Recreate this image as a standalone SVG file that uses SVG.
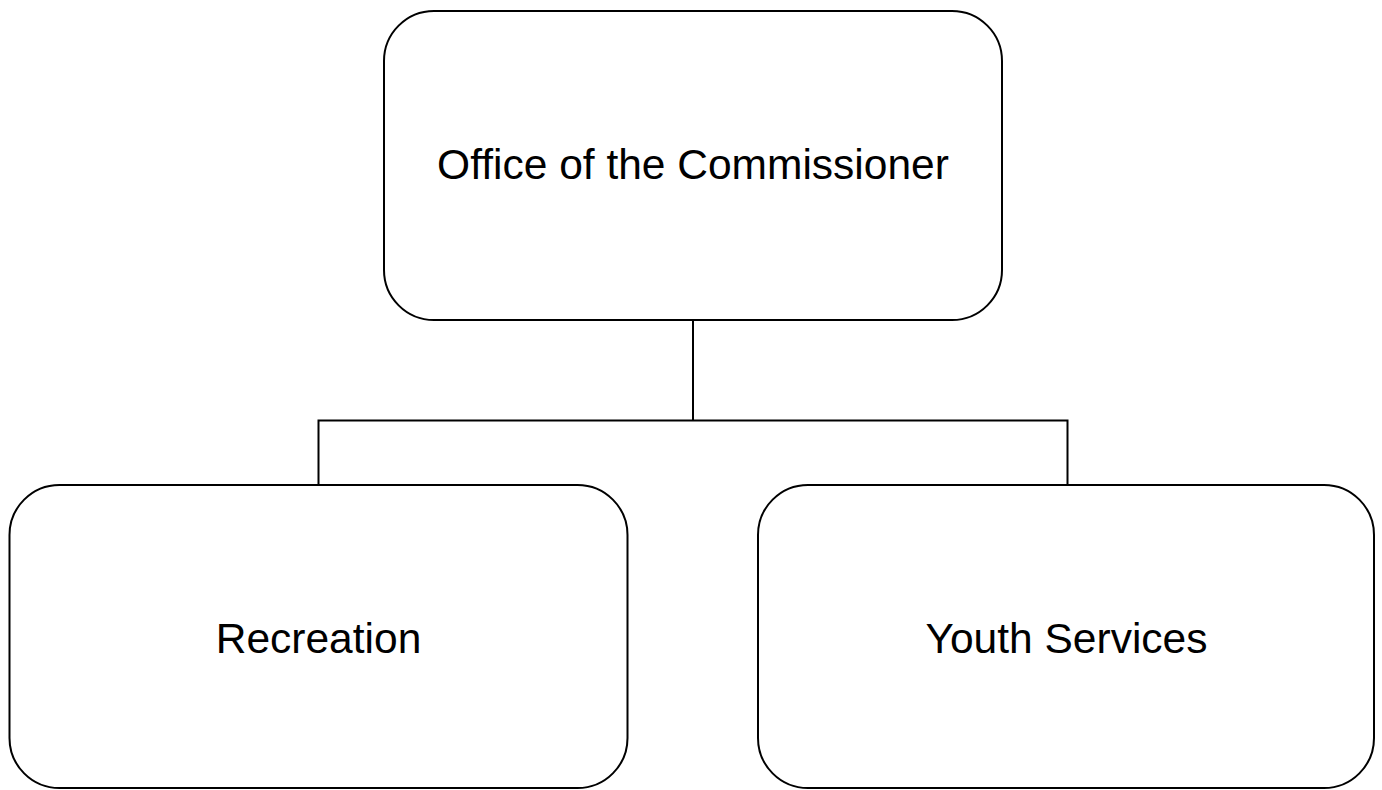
<svg xmlns="http://www.w3.org/2000/svg" width="1382" height="790" viewBox="0 0 1382 790">
  <style>
    .box { fill: #ffffff; stroke: #000000; stroke-width: 2; }
    .label { font-family: "Liberation Sans", Arial, sans-serif; font-size: 42.5px; fill: #000000; text-anchor: middle; }
    .link { fill: none; stroke: #000000; stroke-width: 2; }
  </style>
  <rect width="1382" height="790" fill="#ffffff"/>
  <g id="connectors">
    <path class="link" d="M693 320 V420.5 M318.5 484 V420.5 H1067.5 V484"/>
  </g>
  <g id="commissioner">
    <rect class="box" x="384" y="11" width="618" height="309" rx="50" ry="50"/>
    <text class="label" x="693" y="178.5">Office of the Commissioner</text>
  </g>
  <g id="recreation">
    <rect class="box" x="9.5" y="485" width="618" height="303" rx="50" ry="50"/>
    <text class="label" x="318.5" y="652.5">Recreation</text>
  </g>
  <g id="youth-services">
    <rect class="box" x="758" y="485" width="616" height="303" rx="50" ry="50"/>
    <text class="label" x="1066.5" y="652.5">Youth Services</text>
  </g>
</svg>
